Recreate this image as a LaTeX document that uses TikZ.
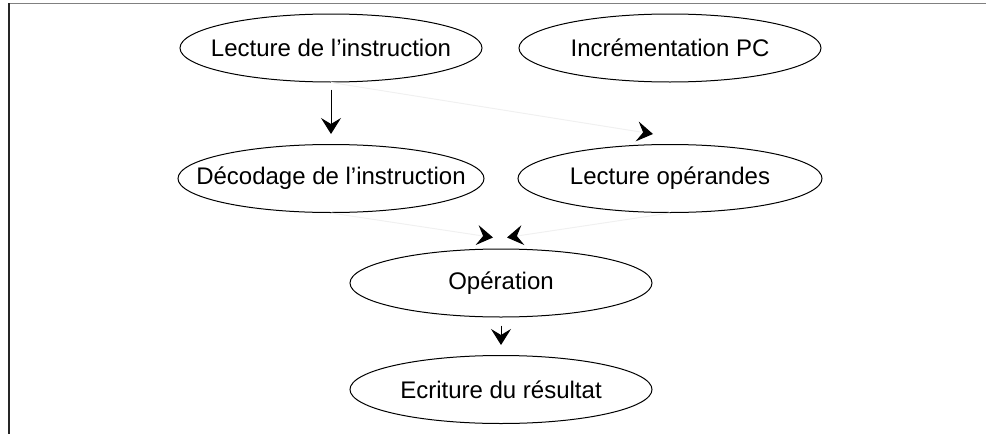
\documentclass[tikz,border=0pt]{standalone}
\usepackage{fontspec}
\setmainfont{Liberation Sans}
\usetikzlibrary{shapes,arrows.meta,positioning}

\begin{document}
\begin{tikzpicture}[x=1pt,y=-1pt,
            etape/.style={ellipse,draw=black,line width=1pt,inner sep=0pt,minimum width=302pt,minimum height=68pt,font=\fontsize{24}{28}\selectfont,
               execute at begin node={\hbox to 0pt\bgroup\hss},execute at end node={\hss\egroup}},
            fleche/.style={line width=1pt,-{Stealth[length=16pt,width=20pt,inset=6pt,color=black]}},
            pale/.style={fleche,draw=black!6}]

            \useasboundingbox (0,0) rectangle (986,434);
            \draw[line width=1.5pt,draw=black!50] (8,3.5) -- (986,3.5);
            \draw[line width=1.5pt,draw=black!85] (9,3) -- (9,434);

            \node[etape] (lecture) at (331,48) {Lecture de l’instruction};
            \node[etape] (increment) at (670,48) {Incrémentation PC};
            \node[etape,minimum width=306pt] (decodage) at (331,178.5) {Décodage de l’instruction};
            \node[etape,minimum width=304pt] (operandes) at (670,178.5) {Lecture opérandes};
            \node[etape] (operation) at (501,283) {Opération};
            \node[etape] (ecriture) at (501,389.5) {Ecriture du résultat};

            \draw[fleche,shorten <=7pt] (lecture.south) -- ([yshift=10pt]decodage.north);
            \draw[pale] (lecture.south) -- ([xshift=-17pt,yshift=10pt]operandes.north);
            \draw[pale] (decodage.south) -- ([xshift=-8pt,yshift=11pt]operation.north);
            \draw[pale] (operandes.south) -- ([xshift=6pt,yshift=11pt]operation.north);
            \draw[fleche,shorten <=8pt] (operation.south) -- ([yshift=10pt]ecriture.north);
         \end{tikzpicture}
\end{document}
